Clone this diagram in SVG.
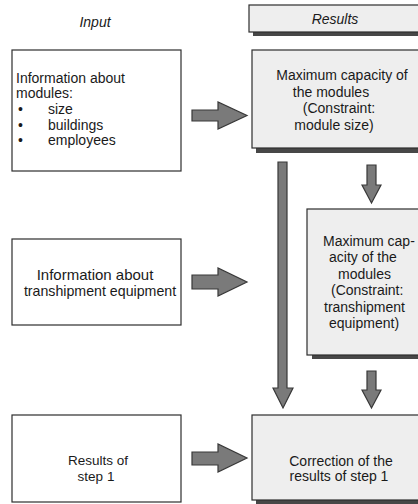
<svg xmlns="http://www.w3.org/2000/svg" width="418" height="504" viewBox="0 0 418 504">
  <style>
    text { font-family: "Liberation Sans", Arial, sans-serif; fill: #1a1a1a; }
    .head { font-size: 14px; font-style: italic; text-anchor: middle; }
    .t { font-size: 14px; }
    .c { text-anchor: middle; }
    .inbox { fill: #ffffff; stroke: #2e2e2e; stroke-width: 1.2; }
    .resbox { fill: #eeeeee; stroke: #2e2e2e; stroke-width: 1.2; }
    .shadow { fill: #474747; }
    .arrow { fill: #7a7a7a; stroke: #383838; stroke-width: 1.2; stroke-linejoin: miter; }
  </style>

  <!-- column headings -->
  <g id="heading-input">
    <text class="head" x="95" y="27">Input</text>
  </g>
  <g id="heading-results">
    <rect class="shadow" x="253" y="9" width="170" height="27"/>
    <rect class="resbox" x="249" y="5" width="172" height="27"/>
    <text class="head" x="335" y="24">Results</text>
  </g>

  <!-- input column -->
  <g id="input-modules">
    <rect class="inbox" x="12" y="50" width="169" height="121"/>
    <text class="t" x="16" y="83">Information about</text>
    <text class="t" x="16" y="98">modules:</text>
    <text class="t" x="18" y="114">•</text>
    <text class="t" x="48" y="114">size</text>
    <text class="t" x="18" y="130">•</text>
    <text class="t" x="48" y="130">buildings</text>
    <text class="t" x="18" y="145">•</text>
    <text class="t" x="48" y="145">employees</text>
  </g>
  <g id="input-equipment">
    <rect class="inbox" x="12" y="239" width="169" height="86"/>
    <text style="font-size:15px" x="95" y="280" class="c">Information about</text>
    <text style="font-size:14.2px" x="100" y="296" class="c">transhipment equipment</text>
  </g>
  <g id="input-step1">
    <rect class="inbox" x="12" y="415" width="169" height="87"/>
    <text class="c" style="font-size:13.5px" x="98" y="465">Results of</text>
    <text class="c" style="font-size:13.5px" x="96" y="481">step 1</text>
  </g>

  <!-- results column -->
  <g id="result-module-size">
    <rect class="shadow" x="256" y="54" width="170" height="99"/>
    <rect class="resbox" x="252" y="50" width="172" height="98"/>
    <text class="t c" x="342" y="80">Maximum capacity of</text>
    <text class="t c" x="331" y="97">the modules</text>
    <text class="t c" x="339" y="113">(Constraint:</text>
    <text class="t c" x="334" y="130">module size)</text>
  </g>
  <g id="result-equipment">
    <rect class="shadow" x="312" y="213" width="120" height="146"/>
    <rect class="resbox" x="307" y="209" width="120" height="146"/>
    <text class="t" x="323" y="246">Maximum cap-</text>
    <text class="t" x="329" y="262">acity of the</text>
    <text class="t" x="338" y="279">modules</text>
    <text class="t" x="331" y="295">(Constraint:</text>
    <text class="t" x="324" y="312">transhipment</text>
    <text class="t" x="329" y="328">equipment)</text>
  </g>
  <g id="result-correction">
    <rect class="shadow" x="256" y="419" width="170" height="85"/>
    <rect class="resbox" x="252" y="415" width="172" height="85"/>
    <text class="t c" x="341" y="466">Correction of the</text>
    <text class="t c" x="339" y="481">results of step 1</text>
  </g>

  <!-- connectors -->
  <g id="connectors">
    <!-- input to result arrows -->
    <path class="arrow" d="M192,110 H218 V102 L247,115.5 L218,129 V121 H192 Z"/>
    <path class="arrow" d="M192,275 H218 V268 L247,282 L218,296 V289 H192 Z"/>
    <path class="arrow" d="M192,452 H218 V444 L247,458 L218,472 V465 H192 Z"/>
    <!-- module-size result straight down to correction -->
    <path class="arrow" d="M278,162 H287 V388 H293 L283,408 L273,388 H278 Z"/>
    <!-- module-size result to equipment result -->
    <path class="arrow" d="M367,165 H376 V185 H381 L371.5,203 L362,185 H367 Z"/>
    <!-- equipment result to correction -->
    <path class="arrow" d="M367,371 H376 V390 H381 L371.5,408 L362,390 H367 Z"/>
  </g>
</svg>
